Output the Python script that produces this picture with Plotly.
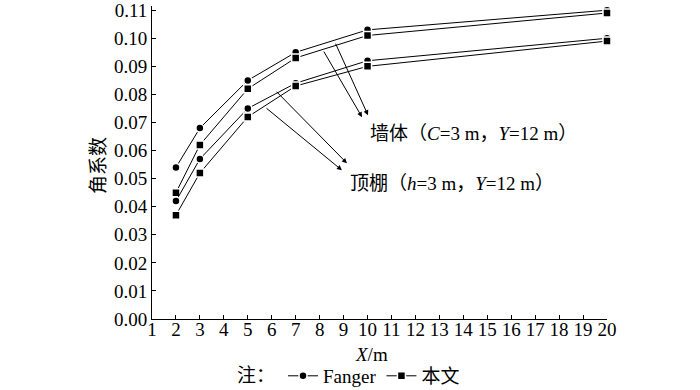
import plotly.graph_objects as go

x_vals = [2, 3, 5, 7, 10, 20]
wall_fanger = [0.054, 0.068, 0.085, 0.095, 0.103, 0.110]
wall_paper = [0.045, 0.062, 0.082, 0.093, 0.101, 0.109]
ceil_fanger = [0.042, 0.057, 0.075, 0.084, 0.092, 0.100]
ceil_paper = [0.037, 0.052, 0.072, 0.083, 0.090, 0.099]
x_ticks = list(range(1, 21))
y_ticks = [i / 100 for i in range(0, 12)]

FONT = "Liberation Serif, Noto Sans CJK SC"
FS = 19
tfont = dict(family="Liberation Serif", size=FS, color="black")

fig = go.Figure()
series = [
    (wall_fanger, "circle", "Fanger", True, "f"),
    (wall_paper, "square", "本文", True, "p"),
    (ceil_fanger, "circle", "Fanger", False, "f"),
    (ceil_paper, "square", "本文", False, "p"),
]
for ys, sym, name, show, grp in series:
    fig.add_trace(go.Scatter(
        x=x_vals, y=ys, mode="lines+markers", name=name,
        showlegend=show, legendgroup=grp,
        line=dict(color="black", width=1),
        marker=dict(symbol=sym, size=8, color="black",
                    line=dict(color="white", width=1.5)),
        cliponaxis=False,
    ))

arrow = dict(showarrow=True, arrowhead=2, arrowsize=1, arrowwidth=1,
             arrowcolor="black", axref="x", ayref="y", text="")
# wall arrows
fig.add_annotation(x=9.77, y=0.0719, ax=8.14, ay=0.0958, **arrow)
fig.add_annotation(x=10.02, y=0.0726, ax=8.64, ay=0.0986, **arrow)
# ceiling arrows
fig.add_annotation(x=8.93, y=0.0530, ax=5.72, ay=0.0755, **arrow)
fig.add_annotation(x=9.14, y=0.0555, ax=6.14, ay=0.0815, **arrow)

fig.add_annotation(x=10.0, y=0.0662, xanchor="left", yanchor="middle",
                   showarrow=False,
                   text="墙体（<i>C</i>=3 m，<i>Y</i>=12 m）",
                   font=dict(family=FONT, size=FS, color="black"))
fig.add_annotation(x=9.2, y=0.0481, xanchor="left", yanchor="middle",
                   showarrow=False,
                   text="顶棚（<i>h</i>=3 m，<i>Y</i>=12 m）",
                   font=dict(family=FONT, size=FS, color="black"))

# axis titles
fig.add_annotation(xref="paper", yref="paper", x=0.4835, y=-0.115,
                   xanchor="center", yanchor="middle", showarrow=False,
                   text="<i>X</i>/m", font=dict(family=FONT, size=FS))
fig.add_annotation(xref="paper", yref="paper", x=-0.1187, y=0.492,
                   xanchor="center", yanchor="middle", showarrow=False,
                   textangle=-90, text="角系数",
                   font=dict(family=FONT, size=FS))

fig.update_layout(
    width=700, height=390,
    margin=dict(l=152, r=93, t=6, b=71, autoexpand=False),
    paper_bgcolor="white", plot_bgcolor="white",
    font=dict(family=FONT, size=FS, color="black"),
    legend=dict(orientation="h", xref="container", yref="container",
                x=0.5, xanchor="center", y=0.036, yanchor="middle",
                title=dict(text="注：", side="left",
                           font=dict(family=FONT, size=FS)),
                font=dict(family=FONT, size=FS), itemwidth=30,
                tracegroupgap=0, bgcolor="rgba(0,0,0,0)"),
)
fig.update_xaxes(
    range=[1, 20], tickvals=x_ticks, ticktext=[str(t) for t in x_ticks],
    showgrid=False, zeroline=False, showline=True, linecolor="black",
    linewidth=1, ticks="inside", ticklen=4, tickcolor="black",
    automargin=False, ticklabelstandoff=-7, tickfont=tfont,
)
fig.update_yaxes(
    range=[0, 0.1115], tickvals=y_ticks,
    ticktext=[f"{t:.2f}" for t in y_ticks],
    showgrid=False, zeroline=False, showline=True, linecolor="black",
    linewidth=1, ticks="inside", ticklen=4, tickcolor="black",
    automargin=False, ticklabeloverflow="allow", tickfont=tfont,
)

fig.write_html("out.html", config={"displayModeBar": False},
               post_script="document.body.style.margin='0';")
